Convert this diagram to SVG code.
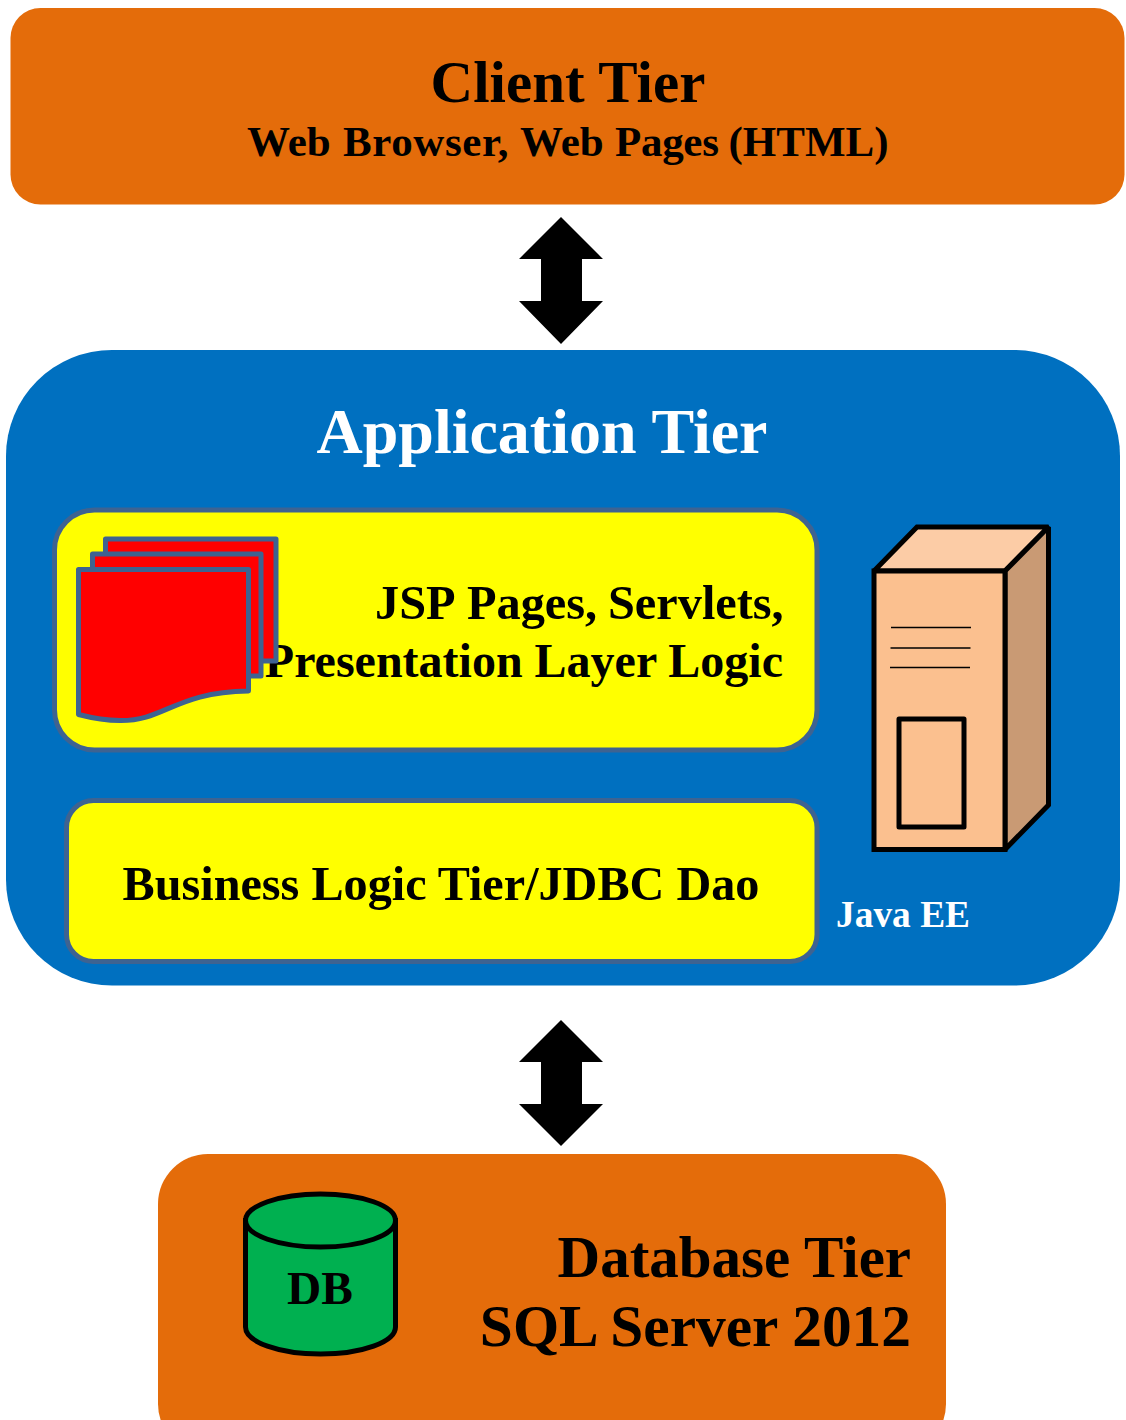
<svg xmlns="http://www.w3.org/2000/svg" width="1126" height="1420" viewBox="0 0 1126 1420">
<style>
text{font-family:"Liberation Serif","Times New Roman",serif;font-weight:700;fill:#000}
.orange{fill:#e46c0a}
.yellow{fill:#ffff00;stroke:#3e6391;stroke-width:5}
.sheet{fill:#ff0000;stroke:#3e6391;stroke-width:5;stroke-linejoin:round}
.ink{stroke:#000;stroke-width:5;stroke-linejoin:miter;stroke-miterlimit:2}
.thin{stroke:#000;stroke-width:1.5;fill:none}
</style>
<rect width="1126" height="1420" fill="#fff"/>
<g id="connectors">
<path id="arrow-top" d="M561 217L603 259H582V301H603L561 344L519 301H541V259H519Z" fill="#000"/>
<path id="arrow-bottom" d="M561 1020L603 1062H582V1104H603L561 1146L519 1104H541V1062H519Z" fill="#000"/>
</g>
<g id="client-tier">
<rect class="orange" x="10.500" y="8" width="1114" height="196.500" rx="30"/>
<text x="568" y="102" font-size="59" text-anchor="middle">Client Tier</text>
<text y="156" font-size="43"><tspan x="247">Web </tspan><tspan x="343" letter-spacing="0.600">Browser, </tspan><tspan x="520">Web </tspan><tspan x="615" letter-spacing="-0.300">Pages </tspan><tspan x="728.500">(HTML)</tspan></text>
</g>
<g id="application-tier">
<rect x="6" y="350" width="1114" height="635.500" rx="106" fill="#0070c0"/>
<text x="542" y="453" font-size="64" text-anchor="middle" style="fill:#fff">Application Tier</text>
</g>
<g id="presentation-layer">
<rect class="yellow" x="54.500" y="510" width="762.500" height="240" rx="40"/>
<text y="619" font-size="48.300"><tspan x="375">JSP </tspan><tspan x="467">Pages, </tspan><tspan x="608">Servlets,</tspan></text>
<text x="783" y="676.500" font-size="48" text-anchor="end">Presentation Layer Logic</text>
<g id="pages-icon">
<rect class="sheet" x="105.500" y="539" width="170.500" height="122"/>
<rect class="sheet" x="92.500" y="554" width="168.500" height="122"/>
<path class="sheet" d="M78.500 569.500H248.500V691C175 692 165 721 120 720.500C105 720.500 92 718 78.500 714.500Z"/>
</g>
</g>
<g id="business-layer">
<rect class="yellow" x="66.500" y="800.500" width="750.500" height="161" rx="27"/>
<text x="441" y="899.500" font-size="48.200" text-anchor="middle">Business Logic Tier/JDBC Dao</text>
</g>
<g id="java-ee-server">
<path class="ink" d="M874 571L917 527H1048.500L1005 571Z" fill="#fccca6"/>
<path class="ink" d="M1005 571L1048.500 527V805L1005 849.500Z" fill="#c99a74"/>
<rect class="ink" x="874" y="571" width="131" height="278.500" fill="#fbc08f"/>
<path class="thin" d="M891 627.500H971M890.500 648H970.500M890 667.500H970"/>
<rect x="899" y="719" width="65" height="108" fill="none" stroke="#000" stroke-width="5" stroke-linejoin="round"/>
<text x="836" y="927" font-size="37.400" style="fill:#fff">Java EE</text>
</g>
<g id="database-tier">
<rect class="orange" x="158" y="1154" width="788" height="300" rx="50"/>
<text x="911" y="1277" font-size="59" text-anchor="end">Database Tier</text>
<text x="911" y="1346" font-size="59.400" text-anchor="end">SQL Server 2012</text>
<g id="db-icon">
<path d="M245.500 1220.500V1327C245.500 1342 279 1354 320.500 1354S395.500 1342 395.500 1327V1220.500Z" fill="#00b050" stroke="#000" stroke-width="5"/>
<ellipse cx="320.500" cy="1220.500" rx="75" ry="26.500" fill="#00b050" stroke="#000" stroke-width="5"/>
<text x="320" y="1304" font-size="47.400" text-anchor="middle">DB</text>
</g>
</g>
</svg>
